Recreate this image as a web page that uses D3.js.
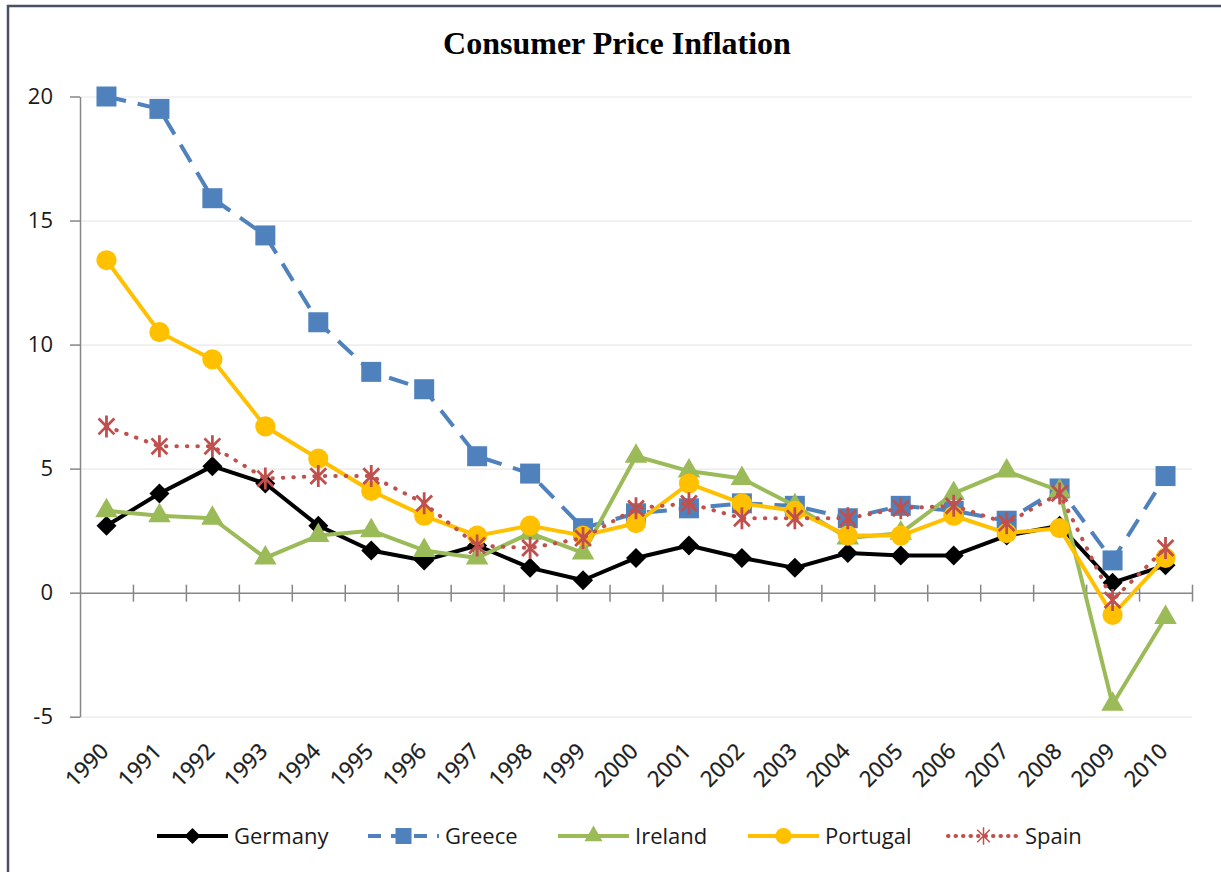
<!DOCTYPE html>
<html>
<head>
<meta charset="utf-8">
<script src="https://cdn.jsdelivr.net/npm/d3@7"></script>
<style>
  body { margin: 0; background: #fff; }
  .axis text { font-family: "Open Sans", sans-serif; font-size: 22px; fill: #1a1a1a; }
</style>
</head>
<body>
<div id="chart"></div>
<script>
// data
var years = [1990, 1991, 1992, 1993, 1994, 1995, 1996, 1997, 1998, 1999, 2000,
  2001, 2002, 2003, 2004, 2005, 2006, 2007, 2008, 2009, 2010];

var germany  = [2.7, 4.0, 5.1, 4.4, 2.7, 1.7, 1.3, 1.9, 1.0, 0.5, 1.4, 1.9, 1.4, 1.0, 1.6, 1.5, 1.5, 2.3, 2.7, 0.4, 1.1];
var greece   = [20.0, 19.5, 15.9, 14.4, 10.9, 8.9, 8.2, 5.5, 4.8, 2.6, 3.2, 3.4, 3.6, 3.5, 3.0, 3.5, 3.3, 2.9, 4.2, 1.3, 4.7];
var ireland  = [3.3, 3.1, 3.0, 1.4, 2.3, 2.5, 1.7, 1.4, 2.4, 1.6, 5.5, 4.9, 4.6, 3.5, 2.2, 2.4, 4.0, 4.9, 4.1, -4.5, -1.0];
var portugal = [13.4, 10.5, 9.4, 6.7, 5.4, 4.1, 3.1, 2.3, 2.7, 2.3, 2.8, 4.4, 3.6, 3.3, 2.3, 2.3, 3.1, 2.4, 2.6, -0.9, 1.4];
var spain    = [6.7, 5.9, 5.9, 4.6, 4.7, 4.7, 3.6, 1.9, 1.8, 2.2, 3.4, 3.6, 3.0, 3.0, 3.0, 3.4, 3.5, 2.8, 4.0, -0.3, 1.8];

var seriesNames = ["Germany", "Greece", "Ireland", "Portugal", "Spain"];
var yTicks = [-5, 0, 5, 10, 15, 20];

(function() {
  var width = 1221, height = 872;
  var plot = { left: 80, right: 1192, top: 96.5, bottom: 716.7 };

  var svg = d3.select("#chart")
    .append("svg")
    .attr("width", width)
    .attr("height", height);

  // frame
  svg.append("path")
    .attr("d", "M8,872 L8,6 L1221,6")
    .attr("fill", "none")
    .attr("stroke", "#4a4f63")
    .attr("stroke-width", 2.5);

  svg.append("text")
    .attr("x", 617)
    .attr("y", 54)
    .attr("text-anchor", "middle")
    .attr("font-family", "Liberation Serif, Times New Roman, serif")
    .attr("font-weight", "bold")
    .attr("font-size", 32)
    .text("Consumer Price Inflation");

  var xPositionScale = d3.scaleBand().domain(years).range([plot.left, plot.right]);
  var yPositionScale = d3.scaleLinear().domain([-5, 20]).range([plot.bottom, plot.top]);
  var xc = function(d) { return xPositionScale(d) + xPositionScale.bandwidth() / 2; };

  // gridlines
  svg.append("g")
    .attr("class", "grid")
    .attr("transform", "translate(" + plot.left + ",0)")
    .call(d3.axisLeft(yPositionScale)
      .tickValues(yTicks.filter(function(d) { return d !== 0; }))
      .tickSize(-(plot.right - plot.left))
      .tickFormat(""))
    .call(function(g) { g.select(".domain").remove(); })
    .selectAll("line")
    .attr("stroke", "#e8e8e8")
    .attr("stroke-width", 1.2);

  // y axis
  var yAxis = d3.axisLeft(yPositionScale)
    .tickValues(yTicks)
    .tickSize(10)
    .tickPadding(17)
    .tickSizeOuter(0)
    .tickFormat(function(d) { return String(d); });
  var yg = svg.append("g")
    .attr("class", "axis y-axis")
    .attr("transform", "translate(" + plot.left + ",0)")
    .call(yAxis);
  yg.selectAll("line, path").attr("stroke", "#868686").attr("stroke-width", 1.5);

  // category axis at zero, ticks between categories
  var boundary = d3.scaleLinear().domain([0, years.length]).range([plot.left, plot.right]);
  var xg = svg.append("g")
    .attr("class", "axis x-axis")
    .attr("transform", "translate(0," + yPositionScale(0) + ")")
    .call(d3.axisBottom(boundary)
      .tickValues(d3.range(1, years.length + 1))
      .tickSize(9)
      .tickSizeOuter(0)
      .tickFormat(""));
  xg.selectAll("line").attr("y1", -8);
  xg.selectAll("line, path").attr("stroke", "#868686").attr("stroke-width", 1.5);

  // year labels
  var lg = svg.append("g")
    .attr("class", "axis x-labels")
    .attr("transform", "translate(0," + plot.bottom + ")")
    .call(d3.axisBottom(xPositionScale).tickSize(0));
  lg.select(".domain").remove();
  lg.selectAll("text")
    .attr("x", 0).attr("y", 0).attr("dy", 0)
    .attr("text-anchor", "end")
    .attr("stroke", "#1a1a1a")
    .attr("stroke-width", 0.3)
    .attr("transform", "translate(3.5,36) rotate(-45)");

  var asterisk = function(r) {
    var a = r * 0.72;
    return "M0," + (-r) + "L0," + r +
      "M" + (-a) + "," + (-a) + "L" + a + "," + a +
      "M" + (-a) + "," + a + "L" + a + "," + (-a);
  };

  var styles = {
    Germany:  { values: germany,  color: "#000000", dash: null,     cap: "butt",
      marker: function(s) { return d3.symbol(d3.symbolSquare, 200 * s * s)(); }, rotate: 45 },
    Greece:   { values: greece,   color: "#4f81bd", dash: "20,12",  cap: "butt",
      marker: function(s) { return d3.symbol(d3.symbolSquare, 400 * s * s)(); }, rotate: 0 },
    Ireland:  { values: ireland,  color: "#9bbb59", dash: null,     cap: "butt",
      marker: function(s) { return d3.symbol(d3.symbolTriangle, 220 * s * s)(); }, rotate: 0 },
    Portugal: { values: portugal, color: "#ffc000", dash: null,     cap: "butt",
      marker: function(s) { return d3.symbol(d3.symbolCircle, 320 * s * s)(); }, rotate: 0 },
    Spain:    { values: spain,    color: "#c0504d", dash: "0.5,10", cap: "round",
      marker: function(s) { return asterisk(11 * s); }, rotate: 0, stroked: true }
  };

  var line = d3.line()
    .x(function(d, i) { return xc(years[i]); })
    .y(function(d) { return yPositionScale(d); });

  seriesNames.forEach(function(name) {
    var st = styles[name];
    var g = svg.append("g").attr("class", "series");
    g.append("path")
      .datum(st.values)
      .attr("d", line)
      .attr("fill", "none")
      .attr("stroke", st.color)
      .attr("stroke-width", 4)
      .attr("stroke-linecap", st.cap)
      .attr("stroke-linejoin", "round")
      .attr("stroke-dasharray", st.dash);

    g.selectAll(".marker")
      .data(st.values)
      .enter().append("path")
      .attr("class", "marker")
      .attr("d", st.marker(1))
      .attr("transform", function(d, i) {
        return "translate(" + xc(years[i]) + "," + yPositionScale(d) + ") rotate(" + st.rotate + ")";
      })
      .attr("fill", st.stroked ? "none" : st.color)
      .attr("stroke", st.color)
      .attr("stroke-width", st.stroked ? 2.8 : 0);
  });

  // legend
  var legendX = [157, 368, 558, 748, 948];
  var legend = svg.append("g").attr("class", "legend");
  seriesNames.forEach(function(name, i) {
    var st = styles[name];
    var item = legend.append("g").attr("transform", "translate(" + legendX[i] + ",836)");
    item.append("line")
      .attr("x1", 0).attr("x2", 71)
      .attr("stroke", st.color)
      .attr("stroke-width", 4)
      .attr("stroke-linecap", st.cap)
      .attr("stroke-dasharray", st.dash === "20,12" ? "13,10" : (st.dash ? "0.5,7" : null));
    item.append("path")
      .attr("d", st.marker(0.8))
      .attr("transform", "translate(35.5,0) rotate(" + st.rotate + ")")
      .attr("fill", st.stroked ? "none" : st.color)
      .attr("stroke", st.color)
      .attr("stroke-width", st.stroked ? 1.5 : 0);
    item.append("text")
      .attr("x", 77)
      .attr("dy", "0.36em")
      .attr("font-family", "Open Sans, sans-serif")
      .attr("font-size", 22)
      .attr("fill", "#1a1a1a")
      .text(name);
  });
})();
</script>
</body>
</html>
